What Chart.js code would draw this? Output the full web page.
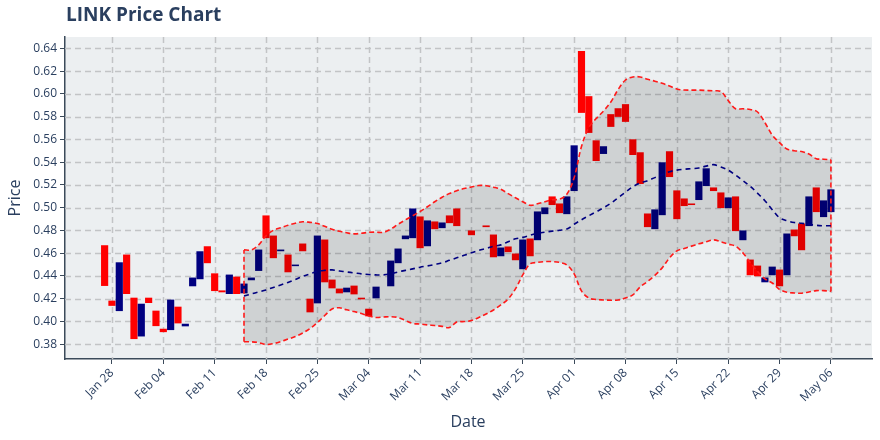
<!DOCTYPE html>
<html>
<head>
<meta charset="utf-8">
<script src="https://cdn.jsdelivr.net/npm/chart.js@4.4.0/dist/chart.umd.min.js"></script>
<style>
  html, body { margin: 0; padding: 0; background: #fff; }
  #wrap { width: 880px; height: 440px; }
</style>
</head>
<body>
<div id="wrap"><canvas id="grafico" width="880" height="440"></canvas></div>
<script>
// dias contados a partir de Jan 27 (dia 0)
const tickLabels = ['Jan 28', 'Feb 04', 'Feb 11', 'Feb 18', 'Feb 25', 'Mar 04', 'Mar 11', 'Mar 18',
    'Mar 25', 'Apr 01', 'Apr 08', 'Apr 15', 'Apr 22', 'Apr 29', 'May 06'];
const tickDays = [1, 8, 15, 22, 29, 36, 43, 50, 57, 64, 71, 78, 85, 92, 99];
const priceTicks = [0.38, 0.40, 0.42, 0.44, 0.46, 0.48, 0.50, 0.52, 0.54, 0.56, 0.58, 0.60, 0.62, 0.64];

const openPrices = [
    0.4667, 0.418, 0.4094, 0.4585, 0.4206, 0.3871, 0.4206, 0.4092, 0.3933, 0.3927,
    0.4127, 0.396, 0.4312, 0.4374, 0.4658, 0.442, 0.427, 0.4244, 0.4391, 0.425,
    0.4365, 0.4447, 0.4929, 0.4752, 0.462, 0.4585, 0.4489, 0.4682, 0.4197, 0.4162,
    0.4717, 0.4365, 0.4286, 0.4259, 0.4312, 0.4206, 0.4109, 0.4206, null, 0.4312,
    0.4515, 0.4726, 0.4735, 0.492, 0.4664, 0.4876, 0.4823, 0.4929, 0.499, null,
    0.4797, null, 0.4841, 0.4761, 0.4576, 0.4656, 0.4594, 0.4462, 0.4726, 0.4717,
    0.4946, 0.5096, 0.5034, 0.4946, 0.5149, 0.6374, 0.5977, 0.5589, 0.5475, 0.5819,
    0.5871, 0.5907, 0.5598, 0.5484, 0.4946, 0.4814, 0.4937, 0.5493, 0.5149, 0.5078,
    0.5034, 0.507, 0.5193, 0.5175, 0.5131, 0.4999, 0.5096, 0.4717, 0.4541, 0.4488,
    0.4347, 0.4409, 0.4453, 0.4409, 0.4805, 0.4858, 0.4841, 0.5175, 0.492, 0.4964
];
const closePrices = [
    0.4315, 0.414, 0.4517, 0.4244, 0.3848, 0.4153, 0.4165, 0.3962, 0.3909, 0.4189,
    0.3986, 0.3977, 0.4383, 0.4614, 0.4515, 0.427, 0.4259, 0.4409, 0.4244, 0.433,
    0.4383, 0.4629, 0.4735, 0.4559, 0.4629, 0.4435, 0.4497, 0.462, 0.4083, 0.4752,
    0.4347, 0.4294, 0.425, 0.4294, 0.4241, 0.4197, 0.4048, 0.4303, null, 0.4532,
    0.4638, 0.4752, 0.499, 0.4647, 0.4885, 0.4814, 0.4867, 0.4867, 0.4841, null,
    0.4761, null, 0.4832, 0.4567, 0.4647, 0.4612, 0.4541, 0.4717, 0.4576, 0.4964,
    0.4999, 0.5026, 0.4955, 0.5096, 0.5545, 0.5836, 0.566, 0.5413, 0.5537, 0.5713,
    0.5801, 0.5757, 0.5466, 0.5211, 0.4832, 0.4982, 0.5396, 0.5272, 0.4902, 0.5017,
    0.5026, 0.5228, 0.5343, 0.5149, 0.4999, 0.5087, 0.4797, 0.4797, 0.4409, 0.44,
    0.4383, 0.4479, 0.4312, 0.477, 0.4752, 0.4629, 0.5096, 0.4964, 0.5061, 0.5158
];

// bandas de bollinger, começam no dia 19
const bandStart = 19;
const upperBand = [
    0.4629, 0.4629, 0.4673, 0.4752, 0.4801, 0.4823, 0.4845, 0.4863, 0.4876, 0.4871,
    0.4861, 0.4836, 0.4810, 0.4792, 0.4779, 0.4770, 0.4775, 0.4783, 0.4785, 0.4783,
    0.4812, 0.4854, 0.4893, 0.4929, 0.4966, 0.5008, 0.5052, 0.5092, 0.5125, 0.5149,
    0.5168, 0.5182, 0.5195, 0.5193, 0.5180, 0.5162, 0.5123, 0.5087, 0.5052, 0.5021,
    0.5034, 0.5052, 0.5070, 0.5074, 0.5118, 0.5264, 0.5537, 0.5704, 0.5783, 0.5849,
    0.5929, 0.6039, 0.6122, 0.6149, 0.6149, 0.6129, 0.6112, 0.6093, 0.6070, 0.6043,
    0.6034, 0.6033, 0.6033, 0.6030, 0.6027, 0.6021, 0.5942, 0.5869, 0.5869, 0.5863,
    0.5841, 0.5748, 0.5638, 0.5572, 0.5516, 0.5501, 0.5493, 0.5471, 0.5431, 0.5426, 0.5422
];
const middleBand = [
    0.4224, 0.4242, 0.4259, 0.4277, 0.4299, 0.4321, 0.4343, 0.4369, 0.4396, 0.4418,
    0.4440, 0.4449, 0.4453, 0.4444, 0.4435, 0.4427, 0.4418, 0.4413, 0.4409, 0.4409,
    0.4418, 0.4435, 0.4449, 0.4462, 0.4477, 0.4488, 0.4501, 0.4515, 0.4537, 0.4559,
    0.4581, 0.4603, 0.4625, 0.4642, 0.4660, 0.4673, 0.4700, 0.4726, 0.4739, 0.4757,
    0.4775, 0.4785, 0.4794, 0.4801, 0.4812, 0.4854, 0.4893, 0.4929, 0.4964, 0.4999,
    0.5039, 0.5087, 0.5136, 0.5184, 0.5217, 0.5237, 0.5264, 0.5290, 0.5316, 0.5330,
    0.5338, 0.5343, 0.5349, 0.5365, 0.5378, 0.5358, 0.5330, 0.5286, 0.5237, 0.5187,
    0.5127, 0.5061, 0.4982, 0.4911, 0.4885, 0.4870, 0.4863, 0.4854, 0.4845, 0.4841, 0.4841
];
const lowerBand = [
    0.3821, 0.3821, 0.3814, 0.3797, 0.3805, 0.3823, 0.3845, 0.3867, 0.3898, 0.3938,
    0.3990, 0.4052, 0.4109, 0.4120, 0.4102, 0.4087, 0.4070, 0.4048, 0.4035, 0.4039,
    0.4042, 0.4035, 0.4008, 0.3983, 0.3977, 0.3970, 0.3964, 0.3957, 0.3946, 0.3995,
    0.3999, 0.4008, 0.4035, 0.4065, 0.4101, 0.4145, 0.4197, 0.4286, 0.4409, 0.4506,
    0.4519, 0.4526, 0.4526, 0.4519, 0.4497, 0.4418, 0.4268, 0.4206, 0.4193, 0.4189,
    0.4187, 0.4189, 0.4206, 0.4233, 0.4303, 0.4352, 0.4405, 0.4471, 0.4559, 0.4620,
    0.4642, 0.4662, 0.4682, 0.4700, 0.4717, 0.4700, 0.4680, 0.4662, 0.4603, 0.4519,
    0.4440, 0.4374, 0.4338, 0.4281, 0.4257, 0.4250, 0.4248, 0.4259, 0.4271, 0.4271, 0.4264
];

const COR_TXT = '#2a3f5f';
const COR_EIXO = '#3b4a5a';
const COR_GRADE = '#c2c4c6';
const FONTE = '"Open Sans", "DejaVu Sans", sans-serif';

function pontos(arr) {
    return arr.map((v, i) => ({ x: bandStart + i, y: v }));
}

const candles = [];
openPrices.forEach((o, i) => {
    if (o == null || closePrices[i] == null) return;
    candles.push({ x: i, y: [o, closePrices[i]] });
});

const ultimo = bandStart + upperBand.length - 1;

// fundo, grade tracejada e textos
const extras = {
    id: 'extras',
    beforeDatasetsDraw(chart) {
        const { ctx, chartArea: a, scales } = chart;
        ctx.save();
        ctx.strokeStyle = COR_GRADE;
        ctx.lineWidth = 1.5;
        ctx.setLineDash([6, 4]);
        ctx.beginPath();
        tickDays.forEach(d => {
            const x = Math.round(scales.x.getPixelForValue(d)) + 0.5;
            ctx.moveTo(x, a.top);
            ctx.lineTo(x, a.bottom);
        });
        priceTicks.forEach(p => {
            const y = Math.round(scales.y.getPixelForValue(p)) + 0.5;
            ctx.moveTo(a.left, y);
            ctx.lineTo(a.right, y);
        });
        ctx.stroke();
        ctx.restore();
    },
    beforeDraw(chart) {
        const { ctx, chartArea: a } = chart;
        ctx.save();
        ctx.fillStyle = '#eceff1';
        ctx.fillRect(a.left, a.top, a.right - a.left, a.bottom - a.top);
        ctx.restore();
    },
    afterDraw(chart) {
        const ctx = chart.ctx;
        ctx.save();
        ctx.fillStyle = COR_TXT;
        ctx.textBaseline = 'middle';
        ctx.textAlign = 'left';
        ctx.font = 'bold 19px ' + FONTE;
        ctx.fillText('LINK Price Chart', 66, 16);

        ctx.font = '16px ' + FONTE;
        ctx.textAlign = 'center';
        ctx.fillText('Date', 468, 422);

        ctx.translate(15, 198);
        ctx.rotate(-Math.PI / 2);
        ctx.fillText('Price', 0, 0);
        ctx.restore();
    }
};

const linhaBanda = {
    type: 'line',
    borderColor: '#ff1a1a',
    borderWidth: 1.6,
    borderDash: [5, 3],
    pointRadius: 0,
    tension: 0.35
};

new Chart(document.getElementById('grafico'), {
    type: 'bar',
    data: {
        datasets: [
            {
                label: 'LINK',
                data: candles,
                backgroundColor: (c) => {
                    const r = c.raw;
                    return r && r.y[1] >= r.y[0] ? '#000080' : '#ff0000';
                },
                borderWidth: 0,
                barThickness: 6.5,
                order: 10
            },
            Object.assign({}, linhaBanda, {
                label: 'Upper',
                data: pontos(upperBand),
                fill: { target: 2 },
                backgroundColor: 'rgba(0,0,0,0.12)',
                order: 3
            }),
            Object.assign({}, linhaBanda, {
                label: 'Lower',
                data: pontos(lowerBand),
                fill: false,
                order: 2
            }),
            {
                type: 'line',
                label: 'MA',
                data: pontos(middleBand),
                borderColor: '#000080',
                borderWidth: 1.6,
                borderDash: [5, 4],
                pointRadius: 0,
                tension: 0.35,
                fill: false,
                order: 1
            },
            Object.assign({}, linhaBanda, {
                label: 'ini',
                data: [{ x: bandStart, y: lowerBand[0] }, { x: bandStart, y: upperBand[0] }],
                tension: 0, fill: false, order: 2
            }),
            Object.assign({}, linhaBanda, {
                label: 'fim',
                data: [{ x: ultimo, y: lowerBand[lowerBand.length - 1] }, { x: ultimo, y: upperBand[upperBand.length - 1] }],
                tension: 0, fill: false, order: 2
            })
        ]
    },
    options: {
        responsive: false,
        animation: false,
        layout: { padding: { top: 37, right: 8, left: 0, bottom: 0 } },
        plugins: {
            legend: { display: false },
            tooltip: { enabled: false },
            title: { display: false }
        },
        scales: {
            x: {
                type: 'linear',
                min: -5.4,
                max: 104.6,
                offset: false,
                afterBuildTicks: (s) => { s.ticks = tickDays.map(v => ({ value: v })); },
                afterFit: (s) => { s.height = 81; },
                ticks: {
                    autoSkip: false,
                    minRotation: 45,
                    maxRotation: 45,
                    padding: 2,
                    color: COR_TXT,
                    font: { family: FONTE, size: 12 },
                    callback: (v) => tickLabels[tickDays.indexOf(v)]
                },
                grid: {
                    offset: false,
                    drawOnChartArea: false,
                    tickLength: 5,
                    tickColor: COR_EIXO,
                    tickWidth: 1
                },
                border: { display: true, color: COR_EIXO, width: 1.5 }
            },
            y: {
                min: 0.367,
                max: 0.650,
                afterBuildTicks: (s) => { s.ticks = priceTicks.map(v => ({ value: v })); },
                afterFit: (s) => { s.width = 65; },
                ticks: {
                    padding: 3,
                    color: COR_TXT,
                    font: { family: FONTE, size: 12 },
                    callback: (v) => Number(v).toFixed(2)
                },
                grid: {
                    drawOnChartArea: false,
                    tickLength: 5,
                    tickColor: COR_EIXO,
                    tickWidth: 1
                },
                border: { display: true, color: COR_EIXO, width: 1.5 }
            }
        }
    },
    plugins: [extras]
});
</script>
</body>
</html>
